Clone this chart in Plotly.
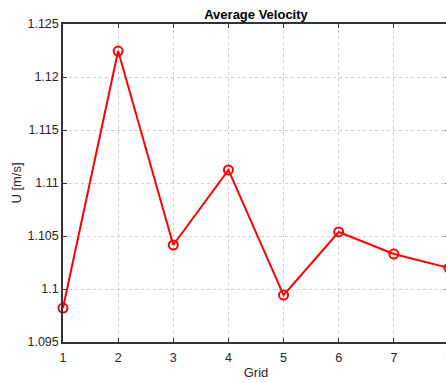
import plotly.graph_objects as go

grid = [1, 2, 3, 4, 5, 6, 7, 8]
velocity = [1.0982, 1.12245, 1.10415, 1.11123, 1.09943, 1.10538, 1.1033, 1.10198]
y_ticks = [1.095, 1.1, 1.105, 1.11, 1.115, 1.12, 1.125]
y_labels = ["1.095", "1.1", "1.105", "1.11", "1.115", "1.12", "1.125"]
x_ticks = [1, 2, 3, 4, 5, 6, 7, 8]

fig = go.Figure()
fig.add_trace(go.Scatter(
    x=grid, y=velocity, mode="lines+markers",
    line=dict(color="#ff0000", width=2),
    marker=dict(symbol="circle-open", size=9, color="#ff0000", line=dict(width=2, color="#ff0000")),
    cliponaxis=False,
))

W, H = 460, 383
fig.update_layout(
    width=W, height=H,
    margin=dict(l=63, r=W - 449, t=24, b=H - 342),
    paper_bgcolor="white", plot_bgcolor="white",
    showlegend=False,
    font=dict(family="Liberation Sans, Arial, sans-serif", size=12, color="#262626"),
    title=dict(text="<b>Average Velocity</b>", x=(63 + 449) / 2 / W, xref="container", xanchor="center",
               y=1 - 14 / H, yref="container", yanchor="middle",
               font=dict(size=13, color="#000000")),
)
axis_common = dict(
    showline=True, linecolor="#333333", linewidth=1.5, mirror="ticks",
    ticks="inside", ticklen=4, tickcolor="#333333", tickwidth=1,
    showgrid=True, gridcolor="#cfcfcf", griddash="dot", gridwidth=1,
    zeroline=False, automargin=False,
    tickfont=dict(size=12.5, color="#262626"),
)
fig.update_xaxes(range=[1, 8], tickvals=x_ticks, ticklabelstandoff=3, **axis_common,
                 title=dict(text="Grid", standoff=4, font=dict(size=13, color="#262626")))
fig.update_yaxes(range=[1.095, 1.125], tickvals=y_ticks, ticktext=y_labels, **axis_common,
                 title=dict(text="U [m/s]", standoff=3, font=dict(size=13, color="#262626")))

fig.write_html("out.html")
